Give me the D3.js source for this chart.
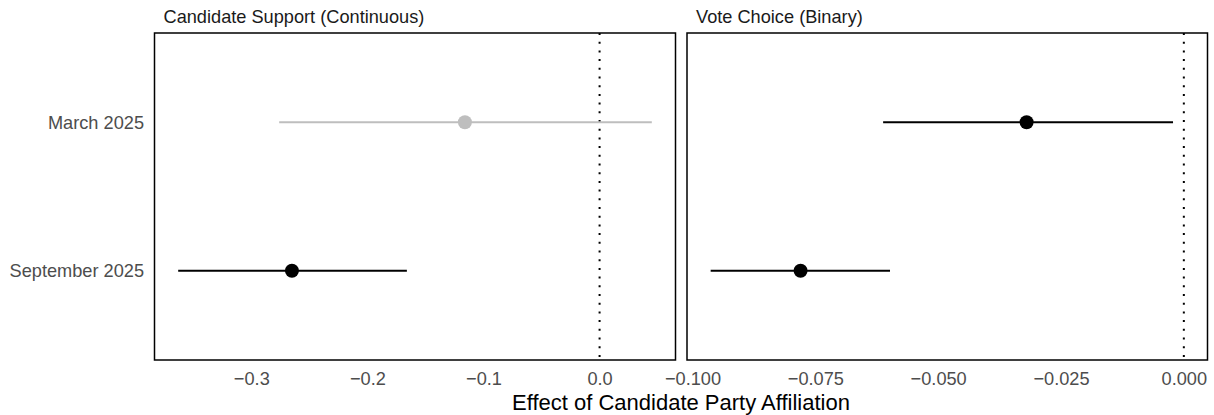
<!DOCTYPE html>
<html>
<head>
<meta charset="utf-8">
<script src="https://cdn.jsdelivr.net/npm/d3@7"></script>
<style>
  body { margin: 0; background: #fff; }
  svg text { font-family: "Liberation Sans", Arial, Helvetica, sans-serif; }
</style>
</head>
<body>
<div id="chart"></div>
<script>
// periods shown on the y axis (top to bottom)
var periods = ["March 2025", "September 2025"];
var panelTitles = ["Candidate Support (Continuous)", "Vote Choice (Binary)"];

// Candidate support (continuous) estimates and 95% intervals
var supportEst  = [-0.116, -0.265];
var supportLow  = [-0.276, -0.363];
var supportHigh = [0.045, -0.166];
var supportSig  = [false, true];

// Vote choice (binary) estimates and intervals
var voteEst  = [-0.032, -0.078];
var voteLow  = [-0.0612, -0.0963];
var voteHigh = [-0.0022, -0.0598];
var voteSig  = [true, true];

var supportTicks = [-0.3, -0.2, -0.1, 0.0];
var voteTicks = [-0.100, -0.075, -0.050, -0.025, 0.000];

var width = 1214, height = 415;
var plotTop = 33, plotBottom = 360;
var fontSize = 18.2;

var svg = d3.select("#chart").append("svg")
    .attr("width", width)
    .attr("height", height);

var y = d3.scalePoint()
    .domain(periods)
    .range([plotTop, plotBottom])
    .padding(0.6);

var buildRows = function(est, low, high, sig) {
    return periods.map(function(p, i) {
        return {period: p, est: est[i], low: low[i], high: high[i], sig: sig[i]};
    });
};

var panels = [
    {title: panelTitles[0], rows: buildRows(supportEst, supportLow, supportHigh, supportSig),
     ticks: supportTicks, fmt: d3.format(".1f"), x0: 154.5, x1: 675.5},
    {title: panelTitles[1], rows: buildRows(voteEst, voteLow, voteHigh, voteSig),
     ticks: voteTicks, fmt: d3.format(".3f"), x0: 687, x1: 1207.5}
];

panels.forEach(function(panel) {
    // ggplot-like 5% expansion, zero always included
    var lo = d3.min(panel.rows, function(d) { return d.low; });
    var hi = d3.max(panel.rows, function(d) { return d.high; });
    lo = Math.min(lo, 0); hi = Math.max(hi, 0);
    var pad = (hi - lo) * 0.05;

    var x = d3.scaleLinear()
        .domain([lo - pad, hi + pad])
        .range([panel.x0, panel.x1]);

    var g = svg.append("g");

    // strip label
    g.append("text")
        .attr("x", panel.x0 + 9)
        .attr("y", 23)
        .attr("font-size", fontSize)
        .attr("fill", "#1a1a1a")
        .text(panel.title);

    // zero reference line
    g.append("line")
        .attr("x1", x(0)).attr("x2", x(0))
        .attr("y1", plotTop).attr("y2", plotBottom)
        .attr("stroke", "#000")
        .attr("stroke-width", 2)
        .attr("stroke-dasharray", "2,6.7");

    // intervals
    g.selectAll("line.ci")
        .data(panel.rows)
        .enter().append("line")
        .attr("class", "ci")
        .attr("x1", function(d) { return x(d.low); })
        .attr("x2", function(d) { return x(d.high); })
        .attr("y1", function(d) { return y(d.period); })
        .attr("y2", function(d) { return y(d.period); })
        .attr("stroke", function(d) { return d.sig ? "#000" : "#bebebe"; })
        .attr("stroke-width", 2);

    // point estimates
    g.selectAll("circle")
        .data(panel.rows)
        .enter().append("circle")
        .attr("cx", function(d) { return x(d.est); })
        .attr("cy", function(d) { return y(d.period); })
        .attr("r", 7)
        .attr("fill", function(d) { return d.sig ? "#000" : "#bebebe"; });

    // panel border
    g.append("rect")
        .attr("x", panel.x0).attr("y", plotTop)
        .attr("width", panel.x1 - panel.x0)
        .attr("height", plotBottom - plotTop)
        .attr("fill", "none")
        .attr("stroke", "#000")
        .attr("stroke-width", 1.5);

    // x axis
    var axis = g.append("g")
        .attr("transform", "translate(0," + plotBottom + ")")
        .call(d3.axisBottom(x).tickValues(panel.ticks).tickFormat(panel.fmt).tickSize(0).tickPadding(12));
    axis.select(".domain").remove();
    axis.selectAll("text")
        .attr("font-size", fontSize)
        .attr("fill", "#4d4d4d")
        .style("font-family", "\"Liberation Sans\", Arial, sans-serif");
});

// y axis labels
var yAxis = svg.append("g")
    .attr("transform", "translate(154.5,0)")
    .call(d3.axisLeft(y).tickSize(0).tickPadding(10.5));
yAxis.select(".domain").remove();
yAxis.selectAll("text")
    .attr("font-size", fontSize)
    .attr("fill", "#4d4d4d")
    .style("font-family", "\"Liberation Sans\", Arial, sans-serif");

// x axis title
svg.append("text")
    .attr("x", (154.5 + 1207.5) / 2)
    .attr("y", 410)
    .attr("text-anchor", "middle")
    .attr("font-size", 22)
    .attr("fill", "#000")
    .text("Effect of Candidate Party Affiliation");
</script>
</body>
</html>
